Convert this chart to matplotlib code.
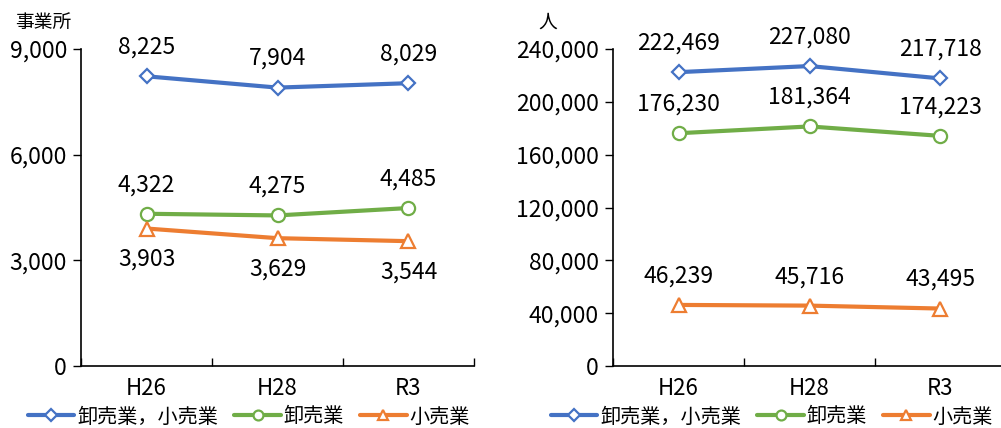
import matplotlib
matplotlib.use('Agg')
import matplotlib.pyplot as plt

plt.rcParams['font.family'] = ['Noto Sans CJK JP', 'DejaVu Sans']

years = ['H26', 'H28', 'R3']
series_names = ['卸売業，小売業', '卸売業', '小売業']

# 事業所数
est_total = [8225, 7904, 8029]
est_whole = [4322, 4275, 4485]
est_retail = [3903, 3629, 3544]

# 従業者数
emp_total = [222469, 227080, 217718]
emp_whole = [176230, 181364, 174223]
emp_retail = [46239, 45716, 43495]

colors = ['#4472C4', '#70AD47', '#ED7D31']
markers = ['D', 'o', '^']
msizes = [7.5, 9.5, 10.5]

fig = plt.figure(figsize=(10.01, 4.28), dpi=100)
W, H = 1001, 428


def draw(ax, data, ymax, step, label_below):
    x = range(len(years))
    for vals, c, m, ms, name, below in zip(data, colors, markers, msizes, series_names, label_below):
        ax.plot(x, vals, color=c, lw=3, marker=m, ms=ms, mfc='white', mec=c, mew=1.6,
                label=name, solid_capstyle='round')
        for xi, v in zip(x, vals):
            off = -31 if below else 29
            ax.annotate(f'{v:,}', (xi, v), xytext=(0, off), textcoords='offset pixels',
                        ha='center', va='center', fontsize=16.5)
    ax.set_xlim(-0.5, len(years) - 0.5)
    ax.set_ylim(0, ymax)
    ax.set_yticks(range(0, ymax + 1, step))
    ax.set_yticklabels([f'{v:,}' for v in range(0, ymax + 1, step)], fontsize=16.5)
    ax.set_xticks(list(x))
    ax.set_xticklabels(years, fontsize=16)
    ax.set_xticks([i - 0.5 for i in range(len(years) + 1)], minor=True)
    ax.tick_params(axis='x', which='major', length=0, pad=8)
    ax.tick_params(axis='x', which='minor', direction='in', length=6, width=1)
    ax.tick_params(axis='y', direction='out', length=6, width=1, pad=4)
    for s in ['top', 'right']:
        ax.spines[s].set_visible(False)
    for s in ['left', 'bottom']:
        ax.spines[s].set_linewidth(1.2)
        ax.spines[s].set_color('black')


ax1 = fig.add_axes([81 / W, 62 / H, 393 / W, 317 / H])
draw(ax1, [est_total, est_whole, est_retail], 9000, 3000, [False, False, True])
ax1.text(-66 / 393, 344 / 317, '事業所', transform=ax1.transAxes, fontsize=13.5, va='center')

ax2 = fig.add_axes([613 / W, 62 / H, 393 / W, 317 / H])
draw(ax2, [emp_total, emp_whole, emp_retail], 240000, 40000, [False, False, False])
ax2.text(-75 / 393, 344 / 317, '人', transform=ax2.transAxes, fontsize=13.5, va='center')

for ax, cx in [(ax1, 249), (ax2, 772)]:
    ax.legend(loc='center', bbox_to_anchor=(cx / W, 11 / H), bbox_transform=fig.transFigure,
              ncol=3, frameon=False, fontsize=14.5, handlelength=2.3, handletextpad=0.15,
              columnspacing=0.8, markerscale=0.75, borderpad=0)

fig.savefig('out.png', dpi=100)
